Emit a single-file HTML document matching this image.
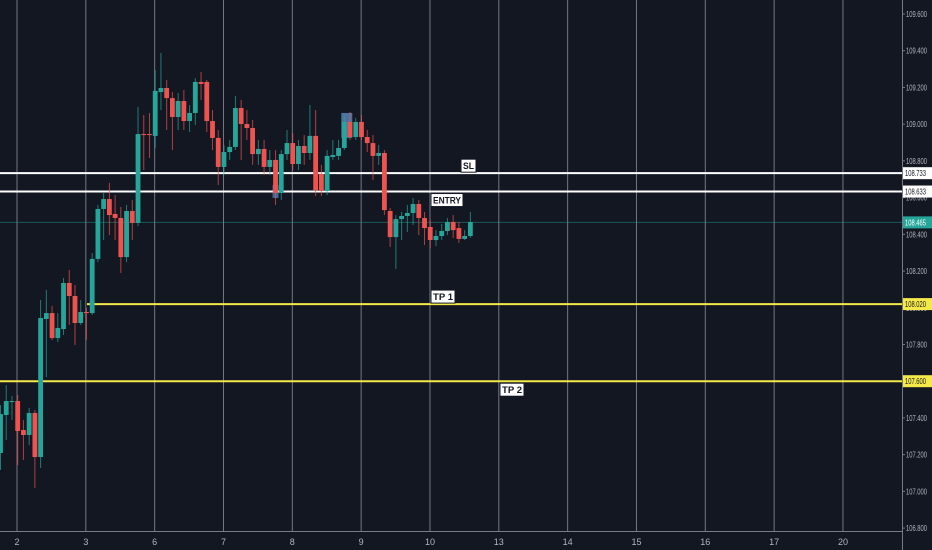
<!DOCTYPE html>
<html><head><meta charset="utf-8">
<style>
html,body{margin:0;padding:0;background:#131722;}
svg{display:block;font-family:"Liberation Sans",sans-serif;}
</style></head>
<body>
<svg id="chart" width="932" height="550" viewBox="0 0 932 550" xmlns="http://www.w3.org/2000/svg">
<rect x="0" y="0" width="932" height="550" fill="#131722"/>
<g id="grid"></g>
<g id="levels"></g>
<g id="candles"></g>
<g id="axes"></g>
</svg>
<script>
const dayLabels = ["2","3","6","7","8","9","10","13","14","15","16","17","20"];
const priceTicks = [109.6,109.4,109.2,109.0,108.8,108.6,108.4,108.2,108.0,107.8,107.6,107.4,107.2,107.0,106.8];
const opens = [107.209,107.416,107.487,107.492,107.334,107.307,107.427,107.187,107.939,107.971,107.835,107.884,108.135,108.064,107.917,107.977,107.971,108.266,108.538,108.592,108.511,108.489,108.276,108.527,108.462,108.946,108.946,108.936,109.175,109.197,109.142,109.039,109.126,109.017,109.061,109.230,109.230,109.017,108.925,108.767,108.848,108.876,109.088,109.001,108.979,108.837,108.865,108.767,108.805,108.625,108.837,108.897,108.783,108.881,108.843,108.936,108.729,108.636,108.821,108.827,108.870,109.012,108.930,109.012,108.930,108.897,108.827,108.843,108.527,108.385,108.483,108.500,108.516,108.565,108.489,108.440,108.369,108.391,108.418,108.467,108.434,108.375,108.391];
const highs = [107.470,107.579,107.519,107.525,107.389,107.454,107.443,108.042,108.097,108.010,107.971,108.162,108.206,108.124,108.042,107.999,108.298,108.560,108.625,108.680,108.614,108.549,108.560,108.587,109.094,109.050,109.061,109.295,109.388,109.241,109.175,109.170,109.186,109.104,109.251,109.284,109.241,109.077,108.968,108.887,108.914,109.153,109.132,109.077,109.023,108.914,108.914,108.859,108.859,108.859,108.968,108.952,108.914,108.941,109.104,109.077,108.778,108.859,108.914,108.914,109.050,109.066,109.034,109.050,108.968,108.941,108.887,108.859,108.543,108.505,108.522,108.560,108.598,108.587,108.522,108.478,108.423,108.456,108.489,108.505,108.467,108.423,108.522];
const lows = [107.116,107.280,107.389,107.143,107.171,107.252,107.018,107.127,107.623,107.824,107.813,107.852,107.906,107.797,107.906,107.824,107.961,108.249,108.369,108.396,108.369,108.189,108.249,108.369,108.445,108.750,108.816,108.870,109.077,108.968,108.859,108.968,108.968,108.957,108.995,109.132,108.957,108.859,108.669,108.723,108.805,108.859,108.805,108.914,108.778,108.778,108.723,108.723,108.560,108.587,108.805,108.750,108.750,108.778,108.805,108.609,108.609,108.614,108.805,108.805,108.859,108.914,108.914,108.914,108.848,108.696,108.778,108.505,108.331,108.211,108.369,108.413,108.451,108.396,108.342,108.325,108.336,108.369,108.396,108.380,108.353,108.369,108.380];
const closes = [107.421,107.492,107.492,107.329,107.307,107.427,107.187,107.944,107.971,107.835,107.890,108.135,108.064,107.917,107.977,107.971,108.266,108.538,108.592,108.505,108.489,108.276,108.527,108.462,108.946,108.941,108.941,109.181,109.197,109.142,109.039,109.126,109.017,109.061,109.230,109.219,109.017,108.925,108.767,108.848,108.876,109.088,109.001,108.979,108.837,108.865,108.767,108.805,108.625,108.837,108.897,108.783,108.881,108.843,108.936,108.641,108.636,108.827,108.832,108.870,109.012,108.930,109.012,108.930,108.897,108.827,108.843,108.532,108.385,108.483,108.500,108.516,108.565,108.489,108.434,108.369,108.391,108.418,108.467,108.423,108.375,108.391,108.467];
const levelNames = ["SL","ENTRY","TP 1","TP 2"];
const levelPrices = [108.733,108.633,108.020,107.600];
const lastPrice = 108.465;

const NS="http://www.w3.org/2000/svg";
const plotRight=902, axisBottom=531;
function y(p){return 14+(109.6-p)*183.6;}
function xCandle(i){return 0.5+i*5.73;}
function xDay(d){return 17+d*68.83;}
function mk(tag,attrs,parent){const e=document.createElementNS(NS,tag);for(const k in attrs)e.setAttribute(k,attrs[k]);parent.appendChild(e);return e;}
const grid=document.getElementById('grid'),levels=document.getElementById('levels'),cg=document.getElementById('candles'),axes=document.getElementById('axes');

dayLabels.forEach((lab,d)=>{
  const l=mk('line',{x1:xDay(d),x2:xDay(d),y1:0,y2:axisBottom,stroke:'#9598a1','stroke-width':1,'stroke-opacity':0.75},grid);
  
  
  const t=mk('text',{x:xDay(d),y:545,fill:'#b2b5be','font-size':9,'text-anchor':'middle'},axes);
  t.textContent=lab;
  
  
});
const xl=mk('line',{x1:0,x2:plotRight,y1:axisBottom+0.5,y2:axisBottom+0.5,stroke:'#787b86','stroke-width':1},axes);


const yl=mk('line',{x1:plotRight+0.5,x2:plotRight+0.5,y1:0,y2:550,stroke:'#787b86','stroke-width':1},axes);


priceTicks.forEach(p=>{
  const tk=mk('line',{x1:plotRight,x2:plotRight+3,y1:y(p),y2:y(p),stroke:'#787b86'},axes);
  
  
  const t=mk('text',{x:906,y:y(p)+3,fill:'#b2b5be','font-size':8,textLength:21,lengthAdjust:'spacingAndGlyphs'},axes);
  t.textContent=p.toFixed(3);
  
  
});

const lp=mk('line',{x1:0,x2:plotRight,y1:y(lastPrice),y2:y(lastPrice),stroke:'#26a69a','stroke-opacity':0.45,'stroke-width':1},levels);



const hl=[[48,'#5aa0e6',108.669,108.598],[60,'#6fb1f0',109.061,108.925]];
hl.forEach(h=>{
  const r=mk('rect',{x:xCandle(h[0])-3,y:y(h[2]),width:(h[0]===60?11:6),height:y(h[3])-y(h[2]),fill:h[1],'fill-opacity':0.6},cg);
  
  
});
for(let i=0;i<opens.length;i++){
  const up=closes[i]>=opens[i], col=up?'#26a69a':'#ef5350', cx=xCandle(i);
  const w=mk('line',{x1:cx,x2:cx,y1:y(highs[i]),y2:y(lows[i]),stroke:col,'stroke-width':1,'stroke-opacity':0.7},cg);
  
  
  const top=y(Math.max(opens[i],closes[i])), bot=y(Math.min(opens[i],closes[i]));
  const b=mk('rect',{x:cx-2.4,y:top,width:4.8,height:Math.max(1,bot-top),fill:col},cg);
  
  
}

const lvlStart=[0,0,87,0], lvlColor=['#ffffff','#ffffff','#f5e94a','#f5e94a'];
const lblX=[461,431,431,500], lblAbove=[true,false,true,false];
const lblW=[15,32,24,24];
levelPrices.forEach((p,k)=>{
  const ly=y(p);
  const ln=mk('line',{x1:lvlStart[k],x2:plotRight,y1:ly,y2:ly,stroke:lvlColor[k],'stroke-width':2},levels);
  
  
  const w=lblW[k];
  const by=lblAbove[k]?ly-14:ly+2;
  const r=mk('rect',{x:lblX[k],y:by,width:w,height:13,fill:'#ffffff',stroke:'#131722','stroke-width':1},levels);
  
  
  const t=mk('text',{x:lblX[k]+2,y:by+10,fill:'#131722','font-size':9,'font-weight':'bold',textLength:w-4,lengthAdjust:'spacingAndGlyphs'},levels);
  t.textContent=levelNames[k];
  
  
  const pb=mk('rect',{x:plotRight+1,y:ly-6,width:29,height:12,fill:k<2?'#ffffff':'#f5e94a'},axes);
  
  
  const pt=mk('text',{x:905,y:ly+3,fill:'#131722','font-size':8,textLength:21,lengthAdjust:'spacingAndGlyphs'},axes);
  pt.textContent=p.toFixed(3);
  
  
});
const lb=mk('rect',{x:plotRight+1,y:y(lastPrice)-6,width:29,height:12,fill:'#26a69a'},axes);


const lt=mk('text',{x:905,y:y(lastPrice)+3,fill:'#ffffff','font-size':8,textLength:21,lengthAdjust:'spacingAndGlyphs'},axes);
lt.textContent=lastPrice.toFixed(3);


</script>
</body></html>
